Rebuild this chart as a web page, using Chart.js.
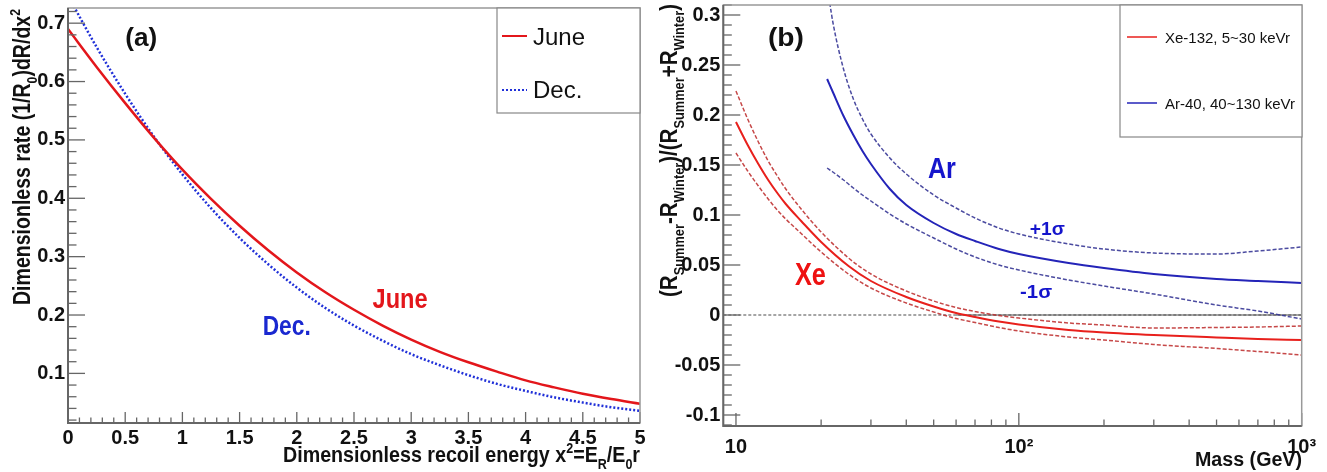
<!DOCTYPE html>
<html>
<head>
<meta charset="utf-8">
<script src="https://cdn.jsdelivr.net/npm/chart.js@4.4.1/dist/chart.umd.min.js"></script>
<style>
body{margin:0;background:#fff;}
#wrapA{position:absolute;left:0;top:0;width:655px;height:472px;}
#wrapB{position:absolute;left:655px;top:0;width:672px;height:472px;}
</style>
</head>
<body>
<div id="wrapA"><canvas id="chartA" width="655" height="472"></canvas></div>
<div id="wrapB"><canvas id="chartB" width="672" height="472"></canvas></div>
<script>
// (a) recoil spectrum, x^2 = E_R/E_0 r
var xsq  = [0,0.25,0.5,0.75,1,1.25,1.5,1.75,2,2.25,2.5,2.75,3,3.25,3.5,3.75,4,4.25,4.5,4.75,5];
var june = [0.690,0.625,0.563,0.504,0.449,0.399,0.353,0.311,0.273,0.239,0.209,0.182,0.158,0.137,0.119,0.103,0.088,0.076,0.065,0.056,0.048];
var dec  = [0.747,0.659,0.579,0.506,0.441,0.383,0.332,0.287,0.247,0.212,0.182,0.156,0.133,0.114,0.097,0.082,0.070,0.059,0.050,0.042,0.036];

// (b) modulation vs WIMP mass
var xeMass = [10,11,12,13,14,15,17,20,25,30,40,50,60,70,85,100,150,200,300,500,700,1000];
var xeMid  = [0.193,0.170,0.151,0.135,0.122,0.111,0.094,0.073,0.049,0.034,0.018,0.0085,0.002,-0.002,-0.0065,-0.0095,-0.015,-0.0175,-0.020,-0.0225,-0.024,-0.025];
var xeHi   = [0.224,0.196,0.173,0.154,0.139,0.126,0.106,0.083,0.057,0.041,0.024,0.014,0.0075,0.0035,-0.0005,-0.003,-0.008,-0.010,-0.013,-0.0125,-0.012,-0.011];
var xeLo   = [0.162,0.144,0.129,0.116,0.105,0.096,0.0815,0.063,0.041,0.027,0.012,0.003,-0.0035,-0.0075,-0.0125,-0.016,-0.022,-0.025,-0.0295,-0.0335,-0.0365,-0.040];

var arMass = [21,22,24,26,28,30,35,40,50,60,70,85,100,150,200,300,500,700,1000];
var arMid  = [0.236,0.223,0.199,0.180,0.164,0.151,0.126,0.110,0.092,0.081,0.074,0.066,0.061,0.052,0.047,0.041,0.036,0.034,0.032];
var arHi   = [0.330,0.293,0.246,0.216,0.196,0.181,0.157,0.141,0.120,0.107,0.097,0.087,0.081,0.071,0.066,0.062,0.061,0.064,0.068];
var arLo   = [0.147,0.143,0.135,0.127,0.120,0.114,0.101,0.091,0.077,0.066,0.058,0.050,0.045,0.035,0.029,0.021,0.010,0.004,-0.004];

var zeroMass = [9.02,1000];
var zeroVal  = [0,0];
var zeroRMass = [60,1000];
var zeroRVal  = [0,0];

var FONT = '"Liberation Sans", Arial, Helvetica, sans-serif';
Chart.defaults.font.family = FONT;

function pts(xs, ys) {
	return xs.map(function(x, i) { return {x: x, y: ys[i]}; });
}

function fmt(v) {
	return String(Math.round(v * 1000) / 1000);
}

// minor/major tick positions (ROOT style)
function linTicks(lo, hi, step, every) {
	var out = [];
	for (var i = Math.ceil(lo / step - 1e-9); i * step <= hi + 1e-9; i++) {
		out.push([i * step, i % every === 0]);
	}
	return out;
}
function logTicks(lo, hi) {
	var out = [];
	for (var d = 1; d <= 3; d++) {
		for (var k = 1; k <= 9; k++) {
			var v = k * Math.pow(10, d);
			if (v >= lo && v <= hi) out.push([v, k === 1]);
		}
	}
	return out;
}

// text with sub/superscripts, squeezed to a given width
function richText(ctx, segs, x, y, o) {
	ctx.save();
	ctx.translate(x, y);
	if (o.rot) ctx.rotate(o.rot);
	var w8 = o.weight || 'bold';
	var big = w8 + ' ' + o.size + 'px ' + FONT;
	var small = w8 + ' ' + Math.round(o.size * 0.62) + 'px ' + FONT;
	var w = 0;
	segs.forEach(function(s) {
		ctx.font = s[1] ? small : big;
		w += ctx.measureText(s[0]).width;
	});
	var sx = o.width ? o.width / w : 1;
	ctx.scale(sx, 1);
	var cx = o.align == 'right' ? -w : 0;
	ctx.fillStyle = o.color || '#111';
	ctx.textBaseline = 'alphabetic';
	ctx.textAlign = 'left';
	segs.forEach(function(s) {
		ctx.font = s[1] ? small : big;
		var dy = s[1] == 'sub' ? o.size * 0.3 : (s[1] == 'sup' ? -o.size * 0.42 : 0);
		ctx.fillText(s[0], cx, dy);
		cx += ctx.measureText(s[0]).width;
	});
	ctx.restore();
}

var decor = {
	id: 'decor',
	afterDatasetsDraw: function(chart, args, o) {
		var ctx = chart.ctx, a = chart.chartArea;
		var xs = chart.scales.x, ys = chart.scales.y;
		ctx.save();
		ctx.setLineDash([]);
		ctx.strokeStyle = '#666';
		ctx.lineWidth = 1.3;
		o.xTicks.forEach(function(t) {
			var px = xs.getPixelForValue(t[0]);
			ctx.beginPath();
			ctx.moveTo(px, a.bottom);
			ctx.lineTo(px, a.bottom - (t[1] ? o.xLen[0] : o.xLen[1]));
			ctx.stroke();
		});
		o.yTicks.forEach(function(t) {
			var py = ys.getPixelForValue(t[0]);
			ctx.beginPath();
			ctx.moveTo(a.left, py);
			ctx.lineTo(a.left + (t[1] ? o.yLen[0] : o.yLen[1]), py);
			ctx.stroke();
		});
		// frame
		ctx.strokeStyle = '#999';
		ctx.lineWidth = 1.5;
		ctx.strokeRect(a.left, a.top, a.right - a.left, a.bottom - a.top);
		ctx.strokeStyle = '#666';
		ctx.lineWidth = 2;
		ctx.beginPath();
		ctx.moveTo(a.left, a.top);
		ctx.lineTo(a.left, a.bottom);
		ctx.lineTo(a.right, a.bottom);
		ctx.stroke();

		// legend box
		var lg = o.legend, b = lg.box;
		ctx.fillStyle = '#fff';
		ctx.fillRect(b[0], b[1], b[2] - b[0], b[3] - b[1]);
		ctx.strokeStyle = '#888';
		ctx.lineWidth = 1.2;
		ctx.strokeRect(b[0], b[1], b[2] - b[0], b[3] - b[1]);
		lg.items.forEach(function(it) {
			var ds = chart.data.datasets[it.ds];
			ctx.save();
			ctx.strokeStyle = ds.borderColor;
			ctx.lineWidth = it.lw || ds.borderWidth;
			ctx.setLineDash(ds.borderDash || []);
			ctx.beginPath();
			ctx.moveTo(it.x1, it.ly);
			ctx.lineTo(it.x2, it.ly);
			ctx.stroke();
			ctx.restore();
			ctx.save();
			ctx.beginPath();
			ctx.rect(b[0], b[1], b[2] - b[0], b[3] - b[1]);
			ctx.clip();
			richText(ctx, [[it.text, '']], it.tx, it.ty, {size: lg.size, weight: 'normal', color: '#111'});
			ctx.restore();
		});

		// labels placed in data coordinates
		o.notes.forEach(function(n) {
			richText(ctx, [[n.text, '']], xs.getPixelForValue(n.x), ys.getPixelForValue(n.y),
				{size: n.size, color: n.color, width: n.width});
		});

		// axis titles
		o.titles.forEach(function(t) {
			richText(ctx, t.segs, t.x, t.y, {size: t.size, align: 'right', rot: t.rot, width: t.width});
		});
		ctx.restore();
	}
};

var tickFont = {family: FONT, size: 20, weight: 'bold'};

// ---------------- panel (a)
new Chart(document.getElementById('chartA'), {
	type: 'scatter',
	data: {
		datasets: [{
			label: 'June',
			data: pts(xsq, june),
			showLine: true,
			borderColor: '#e3161b',
			borderWidth: 2.5,
			pointRadius: 0,
			cubicInterpolationMode: 'monotone'
		}, {
			label: 'Dec.',
			data: pts(xsq, dec),
			showLine: true,
			borderColor: '#2030d8',
			borderWidth: 2.5,
			borderDash: [2, 2],
			pointRadius: 0,
			cubicInterpolationMode: 'monotone'
		}]
	},
	options: {
		responsive: false,
		animation: false,
		devicePixelRatio: 1,
		layout: {padding: {left: 0, right: 15, top: 8, bottom: 0}},
		scales: {
			x: {
				type: 'linear', min: 0, max: 5,
				grid: {display: false, drawTicks: false},
				border: {display: false},
				ticks: {stepSize: 0.5, padding: 3, maxRotation: 0, autoSkip: false, font: tickFont, color: '#111', callback: fmt},
				afterFit: function(s) { s.height = 49; s.paddingLeft = 0; s.paddingRight = 0; }
			},
			y: {
				type: 'linear', min: 0.015, max: 0.726,
				grid: {display: false, drawTicks: false},
				border: {display: false},
				ticks: {stepSize: 0.1, includeBounds: false, padding: 3, font: tickFont, color: '#111', callback: fmt},
				afterFit: function(s) { s.width = 68; s.paddingTop = 0; s.paddingBottom = 0; }
			}
		},
		plugins: {
			legend: {display: false},
			tooltip: {enabled: false},
			decor: {
				xTicks: linTicks(0, 5, 0.1, 5),
				yTicks: linTicks(0.015, 0.726, 0.02, 5),
				xLen: [11, 5.5],
				yLen: [17, 8.5],
				legend: {
					box: [497, 8, 640, 113],
					size: 24,
					items: [
						{ds: 0, x1: 502, x2: 527, ly: 36, tx: 533, ty: 45, text: 'June', lw: 2},
						{ds: 1, x1: 502, x2: 527, ly: 90, tx: 533, ty: 98, text: 'Dec.', lw: 2}
					]
				},
				notes: [
					{text: '(a)', x: 0.5, y: 0.661, size: 26, color: '#111', width: 32},
					{text: 'June', x: 2.662, y: 0.212, size: 28, color: '#e3161b', width: 55},
					{text: 'Dec.', x: 1.702, y: 0.166, size: 28, color: '#1a28d0', width: 48}
				],
				titles: [
					{segs: [['Dimensionless recoil energy x', ''], ['2', 'sup'], ['=E', ''], ['R', 'sub'], ['/E', ''], ['0', 'sub'], ['r', '']],
						x: 640, y: 462, size: 22, width: 357},
					{segs: [['Dimensionless rate (1/R', ''], ['0', 'sub'], [')dR/dx', ''], ['2', 'sup']],
						x: 30, y: 9, size: 24, width: 296, rot: -Math.PI / 2}
				]
			}
		}
	},
	plugins: [decor]
});

// ---------------- panel (b)
function logLabel(v) {
	var l = Math.log10(v);
	if (Math.abs(l - 1) < 1e-6) return '10';
	if (Math.abs(l - 2) < 1e-6) return '10\u00b2';
	if (Math.abs(l - 3) < 1e-6) return '10\u00b3';
	return '';
}

function curve(label, xs, ys, color, width, dash) {
	return {
		label: label,
		data: pts(xs, ys),
		showLine: true,
		borderColor: color,
		borderWidth: width,
		borderDash: dash || [],
		pointRadius: 0,
		cubicInterpolationMode: 'monotone'
	};
}

new Chart(document.getElementById('chartB'), {
	type: 'scatter',
	data: {
		datasets: [
			curve('Xe-132, 5~30 keVr', xeMass, xeMid, '#e8201c', 2),
			curve('Ar-40, 40~130 keVr', arMass, arMid, '#2424b8', 2),
			curve('Xe +1s', xeMass, xeHi, 'rgba(192,52,52,0.9)', 1.5, [4, 2]),
			curve('Xe -1s', xeMass, xeLo, 'rgba(192,52,52,0.9)', 1.5, [4, 2]),
			curve('Ar +1s', arMass, arHi, 'rgba(55,55,150,0.9)', 1.5, [4, 2]),
			curve('Ar -1s', arMass, arLo, 'rgba(55,55,150,0.9)', 1.5, [4, 2]),
			curve('zero right', zeroRMass, zeroRVal, '#555', 1.2),
			curve('zero', zeroMass, zeroVal, '#888', 1.3, [3, 2])
		]
	},
	options: {
		responsive: false,
		animation: false,
		devicePixelRatio: 1,
		layout: {padding: {left: 0, right: 25.3, top: 5, bottom: 0}},
		scales: {
			x: {
				type: 'logarithmic', min: 9.02, max: 1000,
				grid: {display: false, drawTicks: false},
				border: {display: false},
				ticks: {padding: 9, maxRotation: 0, autoSkip: false, font: tickFont, color: '#111', callback: logLabel},
				afterFit: function(s) { s.height = 46; s.paddingLeft = 0; s.paddingRight = 0; }
			},
			y: {
				type: 'linear', min: -0.111, max: 0.31,
				grid: {display: false, drawTicks: false},
				border: {display: false},
				ticks: {stepSize: 0.05, includeBounds: false, padding: 3, font: tickFont, color: '#111', callback: fmt},
				afterFit: function(s) { s.width = 68.3; s.paddingTop = 0; s.paddingBottom = 0; }
			}
		},
		plugins: {
			legend: {display: false},
			tooltip: {enabled: false},
			decor: {
				xTicks: logTicks(9.02, 1000),
				yTicks: linTicks(-0.111, 0.31, 0.01, 5),
				xLen: [13, 6.5],
				yLen: [17, 8.5],
				legend: {
					box: [465, 5, 647, 137],
					size: 15,
					items: [
						{ds: 0, x1: 472, x2: 502, ly: 37, tx: 510, ty: 43, text: 'Xe-132, 5~30 keVr', lw: 1.5},
						{ds: 1, x1: 472, x2: 502, ly: 103, tx: 510, ty: 109, text: 'Ar-40, 40~130 keVr', lw: 1.5}
					]
				},
				notes: [
					{text: '(b)', x: 12.97, y: 0.269, size: 26, color: '#111', width: 36},
					{text: 'Ar', x: 47.7, y: 0.137, size: 29, color: '#1515cc', width: 28},
					{text: 'Xe', x: 16.16, y: 0.030, size: 31, color: '#ee1111', width: 31},
					{text: '+1\u03c3', x: 109.4, y: 0.080, size: 19, color: '#1515cc', width: 35},
					{text: '-1\u03c3', x: 101, y: 0.017, size: 19, color: '#1515cc', width: 32}
				],
				titles: [
					{segs: [['Mass (GeV)', '']], x: 647, y: 466, size: 20, width: 107},
					{segs: [['(R', ''], ['Summer', 'sub'], ['-R', ''], ['Winter', 'sub'], [')/(R', ''], ['Summer', 'sub'], ['+R', ''], ['Winter', 'sub'], [')', '']],
						x: 22, y: 4, size: 24, width: 293, rot: -Math.PI / 2}
				]
			}
		}
	},
	plugins: [decor]
});
</script>
</body>
</html>
